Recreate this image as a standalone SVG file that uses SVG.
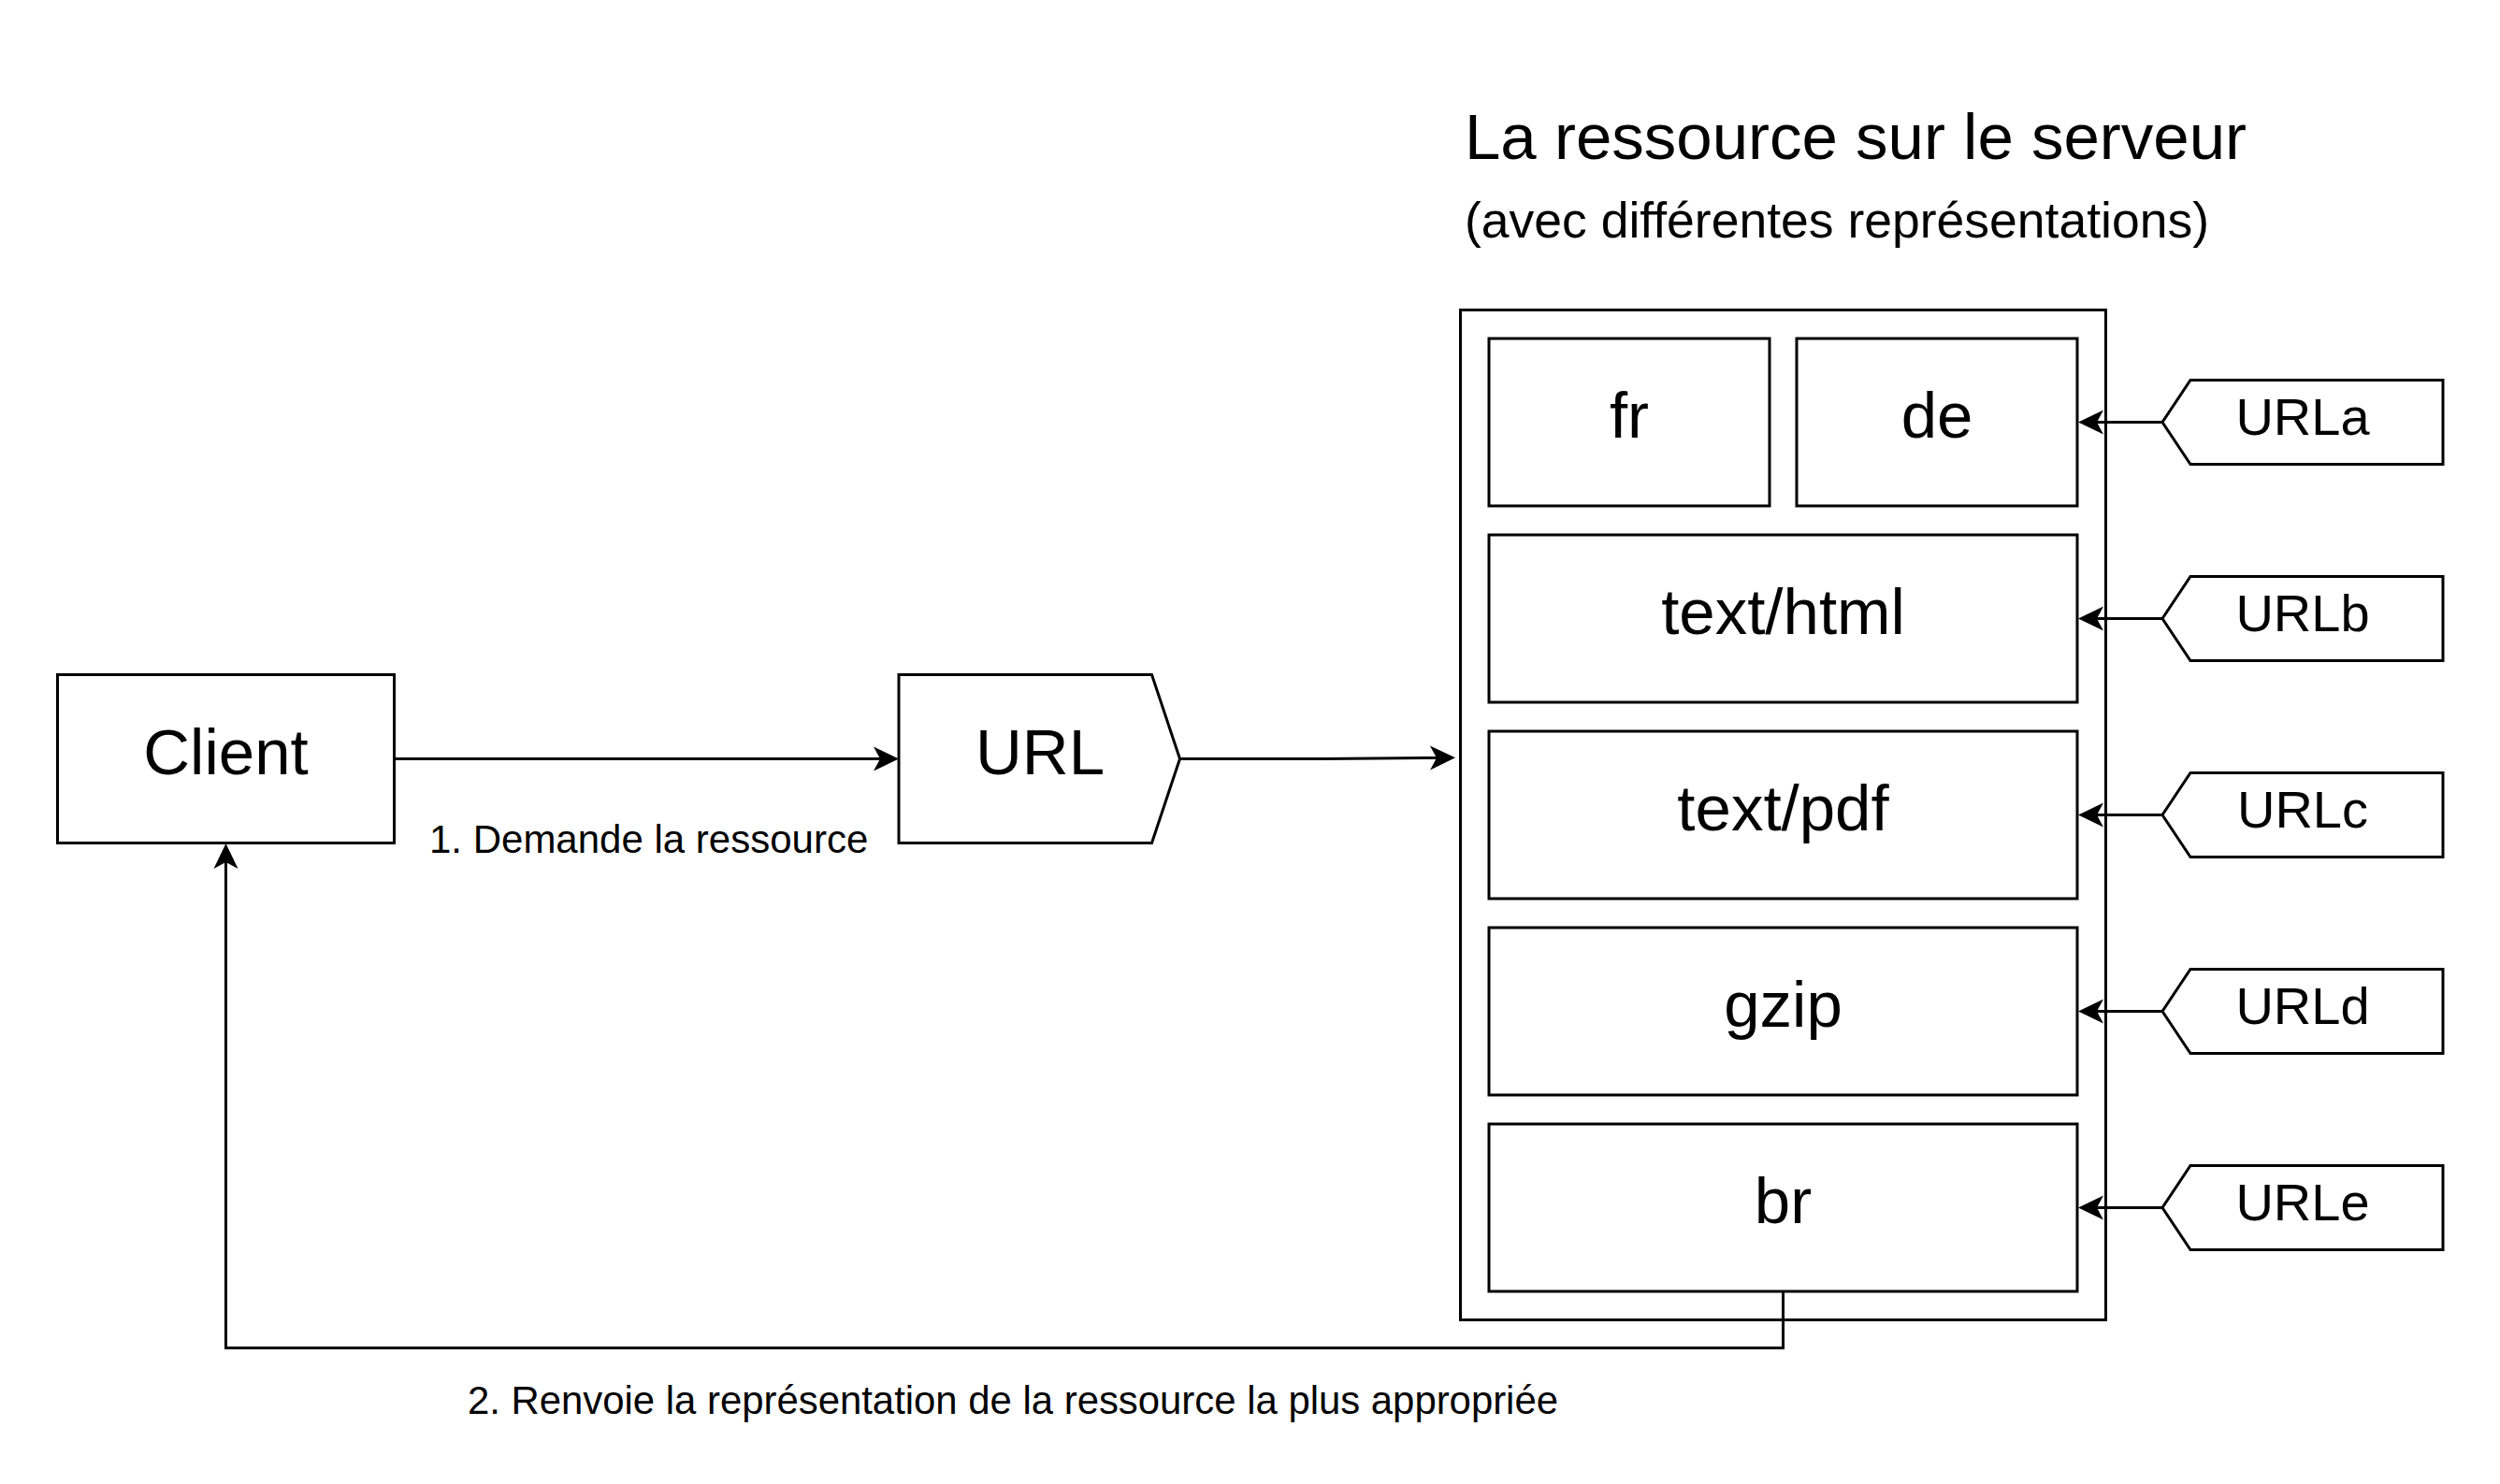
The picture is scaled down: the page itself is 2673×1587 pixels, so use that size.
<svg xmlns="http://www.w3.org/2000/svg" width="2673" height="1587" viewBox="0 0 2673 1587">
<style>
.shape{fill:#ffffff;stroke:#000000;stroke-width:3}
.edge{fill:none;stroke:#000000;stroke-width:3}
text{font-family:"Liberation Sans",Arial,Helvetica,sans-serif;fill:#000000}
.big{font-size:69px;text-anchor:middle}
.tag{font-size:56px;text-anchor:middle}
.lbl{font-size:42px}
</style>
<defs>
<marker id="arr" markerUnits="userSpaceOnUse" viewBox="-8 -14 30 28" markerWidth="30" markerHeight="28" refX="0" refY="0" orient="auto">
<path d="M20,0 L-7,-13 L0,0 L-7,13 Z" fill="#000000"/>
</marker>
</defs>
<rect width="2673" height="1587" fill="#ffffff"/>

<g id="title">
<text x="1566" y="170" style="font-size:69px">La ressource sur le serveur</text>
<text x="1566" y="254" style="font-size:53.5px">(avec différentes représentations)</text>
</g>

<g id="client">
<rect class="shape" x="61.5" y="721.5" width="360" height="180"/>
<text class="big" x="241.5" y="828">Client</text>
</g>

<g id="url">
<path class="shape" d="M961,721.5 H1231.5 L1261.5,811.5 L1231.5,901.5 H961 Z"/>
<text class="big" x="1112" y="828">URL</text>
</g>

<g id="server">
<rect class="shape" x="1561.5" y="331.5" width="690" height="1080"/>
</g>

<g id="fr">
<rect class="shape" x="1592" y="362" width="300" height="179"/>
<text class="big" x="1742" y="467.5">fr</text>
</g>
<g id="de">
<rect class="shape" x="1921" y="362" width="300" height="179"/>
<text class="big" x="2071" y="467.5">de</text>
</g>
<g id="texthtml">
<rect class="shape" x="1592" y="572" width="629" height="179"/>
<text class="big" x="1906.5" y="677.5">text/html</text>
</g>
<g id="textpdf">
<rect class="shape" x="1592" y="782" width="629" height="179"/>
<text class="big" x="1906.5" y="887.5">text/pdf</text>
</g>
<g id="gzip">
<rect class="shape" x="1592" y="992" width="629" height="179"/>
<text class="big" x="1906.5" y="1097.5">gzip</text>
</g>
<g id="br">
<rect class="shape" x="1592" y="1202" width="629" height="179"/>
<text class="big" x="1906.5" y="1307.5">br</text>
</g>

<g id="urla">
<path class="shape" d="M2342,406.5 H2612 V496.5 H2342 L2312,451.5 Z"/>
<text class="tag" x="2462" y="464.5">URLa</text>
</g>
<g id="urlb">
<path class="shape" d="M2342,616.5 H2612 V706.5 H2342 L2312,661.5 Z"/>
<text class="tag" x="2462" y="674.5">URLb</text>
</g>
<g id="urlc">
<path class="shape" d="M2342,826.5 H2612 V916.5 H2342 L2312,871.5 Z"/>
<text class="tag" x="2462" y="884.5">URLc</text>
</g>
<g id="urld">
<path class="shape" d="M2342,1036.5 H2612 V1126.5 H2342 L2312,1081.5 Z"/>
<text class="tag" x="2462" y="1094.5">URLd</text>
</g>
<g id="urle">
<path class="shape" d="M2342,1246.5 H2612 V1336.5 H2342 L2312,1291.5 Z"/>
<text class="tag" x="2462" y="1304.5">URLe</text>
</g>

<g id="connectors">
<path class="edge" d="M421.5,811.5 H941" marker-end="url(#arr)"/>
<path class="edge" d="M1261.5,811.5 H1415 L1536,810.5" marker-end="url(#arr)"/>
<path class="edge" d="M2312,451.5 H2242" marker-end="url(#arr)"/>
<path class="edge" d="M2312,661.5 H2242" marker-end="url(#arr)"/>
<path class="edge" d="M2312,871.5 H2242" marker-end="url(#arr)"/>
<path class="edge" d="M2312,1081.5 H2242" marker-end="url(#arr)"/>
<path class="edge" d="M2312,1291.5 H2242" marker-end="url(#arr)"/>
<path class="edge" d="M1906.5,1381 V1441.5 H241.5 V922" marker-end="url(#arr)"/>
<text class="lbl" x="459" y="912">1. Demande la ressource</text>
<text class="lbl" x="500" y="1512" textLength="1166" lengthAdjust="spacingAndGlyphs">2. Renvoie la représentation de la ressource la plus appropriée</text>
</g>
</svg>
